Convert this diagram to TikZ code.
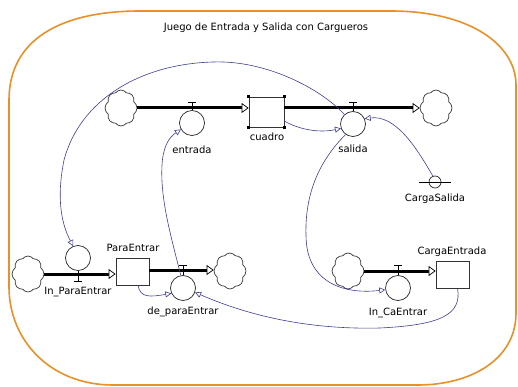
\documentclass[tikz,border=0pt]{standalone}
\usepackage{fontspec}
\setmainfont{DejaVu Sans}
\usetikzlibrary{shapes.symbols,arrows.meta}
\definecolor{conn}{RGB}{62,62,150}
\definecolor{frameor}{RGB}{232,145,40}
\tikzset{
  lab/.style={font=\fontsize{10}{12}\selectfont, inner sep=0pt},
  cloudnode/.style={cloud, cloud puffs=8, cloud puff arc=110, aspect=0.9, draw=black!80, line width=0.7pt, minimum width=32pt, minimum height=36pt, inner sep=0pt},
  valve/.style={circle, draw=black!85, line width=0.7pt, minimum size=25pt, inner sep=0pt},
  stockbox/.style={rectangle, draw=black!80, line width=0.8pt, inner sep=0pt},
  pipe/.style={line width=3pt, -{Triangle[fill=white, length=7pt, width=10pt, line width=0.7pt]}},
  tmark/.style={line width=0.7pt},
  link/.style={conn, line width=0.6pt, -{Triangle[fill=white, length=6pt, width=6pt, line width=0.6pt]}},
}
\begin{document}
\begin{tikzpicture}[x=1pt,y=-1pt]
\useasboundingbox (0,0) rectangle (518,387);
% frame
\draw[frameor, line width=1.6pt] (9,100) .. controls (9,40) and (60,11) .. (140,11) -- (391,11) .. controls (470,11) and (516,45) .. (516,85) -- (516,313) .. controls (516,360) and (470,385) .. (418,385) -- (113,385) .. controls (50,385) and (9,340) .. (9,287) -- cycle;
\node[lab] (title) at (266,28) {Juego de Entrada y Salida con Cargueros};

% clouds
\node[cloudnode] (cloudA) at (121,108) {};
\node[cloudnode] (cloudB) at (436,108) {};
\node[cloudnode] (cloudC) at (28,274) {};
\node[cloudnode] (cloudD) at (230,271) {};
\node[cloudnode] (cloudE) at (348,271) {};

% stocks
\node[stockbox, minimum width=35pt, minimum height=30pt] (cuadro) at (266.5,112) {};
\node[stockbox, minimum width=33pt, minimum height=27pt] (pe) at (132.5,271.5) {};
\node[stockbox, minimum width=33pt, minimum height=27pt] (ce) at (452.5,274.5) {};
\foreach \a in {north east, north west, south east, south west}
  \fill (cuadro.\a) +(-1.5,-1.5) rectangle +(1.5,1.5);

% valves
\node[valve] (entrada) at (192,123) {};
\node[valve] (salida) at (353,124) {};
\node[valve] (inpe) at (78,258) {};
\node[valve] (depe) at (183,288) {};
\node[valve] (incae) at (398,288) {};
\node[circle, draw=black!85, line width=0.7pt, minimum size=12pt, inner sep=0pt] (cs) at (435,182) {};
\draw[line width=0.7pt] (cs.center) +(-16,0) -- +(16,0);

% labels
\node[lab] at (192,150) {entrada};
\node[lab] at (267,137) {cuadro};
\node[lab] at (353,149) {salida};
\node[lab] at (435,199) {CargaSalida};
\node[lab] at (78,292) {In\_ParaEntrar};
\node[lab] at (133,248) {ParaEntrar};
\node[lab] at (183,312) {de\_paraEntrar};
\node[lab] at (398,313) {In\_CaEntrar};
\node[lab] at (452,252) {CargaEntrada};

% pipes
\draw[pipe] (cloudA.east) -- (cuadro.west |- cloudA.east);
\draw[pipe] (cuadro.east |- cloudB.west) -- (cloudB.west);
\draw[pipe] (cloudC.east) -- (pe.west |- cloudC.east);
\draw[pipe] (pe.east |- 0,270) -- (cloudD.west |- 0,270);
\draw[pipe] (cloudE.east) -- (ce.west |- cloudE.east);

% valve T marks
\draw[tmark] (entrada.north) -- ++(0,-7.5) +(-4,0) -- +(4,0);
\draw[tmark] (salida.north) -- ++(0,-8.5) +(-4,0) -- +(4,0);
\draw[tmark] (inpe.south) -- ++(0,10.5) +(-4,0) -- +(4,0);
\draw[tmark] (depe.north) -- ++(0,-9.5) +(-4,0) -- +(4,0);
\draw[tmark] (incae.north) -- ++(0,-9.5) +(-4,0) -- +(4,0);

% connectors
\draw[link] (salida.132) .. controls (320,88) and (265,60) .. (213,62) .. controls (140,64) and (80,100) .. (64,160) .. controls (56,200) and (62,225) .. (inpe.112);
\draw[link] (depe.100) .. controls (172,240) and (160,200) .. (162,165) .. controls (163,148) and (168,138) .. (entrada.210);
\draw[link] (cuadro.-27) .. controls (300,130) and (320,133) .. (salida.200);
\draw[link] (cs.110) .. controls (415,145) and (395,115) .. (salida.25);
\draw[link] (salida.235) .. controls (315,165) and (305,200) .. (306,235) .. controls (306,280) and (340,295) .. (incae.188);
\draw[link] (ce.-70) .. controls (462,315) and (440,325) .. (380,328) .. controls (300,330) and (240,312) .. (depe.-20);
\draw[link] (pe.-68) .. controls (140,298) and (150,297) .. (depe.205);
\end{tikzpicture}
\end{document}
